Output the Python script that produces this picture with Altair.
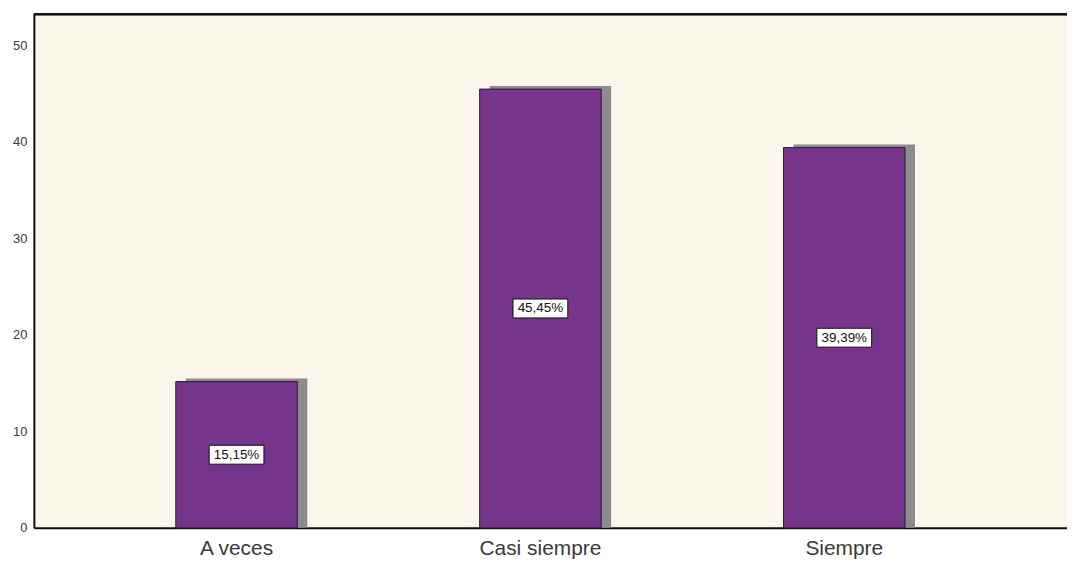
import altair as alt
import pandas as pd

categories = ["A veces", "Casi siempre", "Siempre"]
values = [15.15, 45.45, 39.39]
labels = ["15,15%", "45,45%", "39,39%"]

df = pd.DataFrame({"cat": categories, "val": values, "lab": labels})

W = 1038
H = 516

xscale = alt.Scale(domain=categories, paddingInner=0.6, paddingOuter=0.5, align=0.467)
yscale = alt.Scale(domain=[0, 53.2], nice=False, zero=True)

x_enc = alt.X("cat:N", scale=xscale, sort=categories,
              axis=alt.Axis(title=None, labelAngle=0, labelFontSize=21, labelFont="Liberation Sans",
                            labelColor="#3a3a3a", ticks=False, domainColor="#111111", domainWidth=2,
                            labelPadding=10, grid=False))
y_enc = alt.Y("val:Q", scale=yscale,
              axis=alt.Axis(title=None, values=[0, 10, 20, 30, 40, 50], labelFontSize=13,
                            labelFont="Liberation Sans", labelColor="#3a3a3a", ticks=False,
                            domainColor="#111111", domainWidth=2, labelPadding=7, grid=False))

base = alt.Chart(df)

shadow = base.mark_bar(color="#8c8c8c", xOffset=10, yOffset=-3).encode(
    x=x_enc, y=y_enc, y2=alt.value(H + 6))
bars = base.mark_bar(color="#76348a", stroke="#2a1a30", strokeWidth=1).encode(x=x_enc, y=y_enc)

mid = base.transform_calculate(mid="datum.val / 2")
box = mid.mark_rect(width=55, height=19, fill="white", stroke="#111111", strokeWidth=1).encode(
    x=alt.X("cat:N", scale=xscale, sort=categories),
    y=alt.Y("mid:Q", scale=yscale))
txt = mid.mark_text(fontSize=13.5, font="Liberation Sans", color="#111111").encode(
    x=alt.X("cat:N", scale=xscale, sort=categories),
    y=alt.Y("mid:Q", scale=yscale), text="lab:N")

top = alt.Chart(df).mark_rule(color="#111111", strokeWidth=2).encode(
    x=alt.value(0), x2=alt.value(W), y=alt.value(0))

chart = alt.layer(shadow, bars, box, txt, top).properties(
    width=W, height=H,
    autosize=alt.AutoSizeParams(type="none"),
    padding={"left": 26, "top": 5, "right": 0, "bottom": 34},
    background="white",
).configure_view(fill="#faf6ea", stroke=None)

chart.save("out.html", embed_options={"renderer": "svg", "actions": False})
